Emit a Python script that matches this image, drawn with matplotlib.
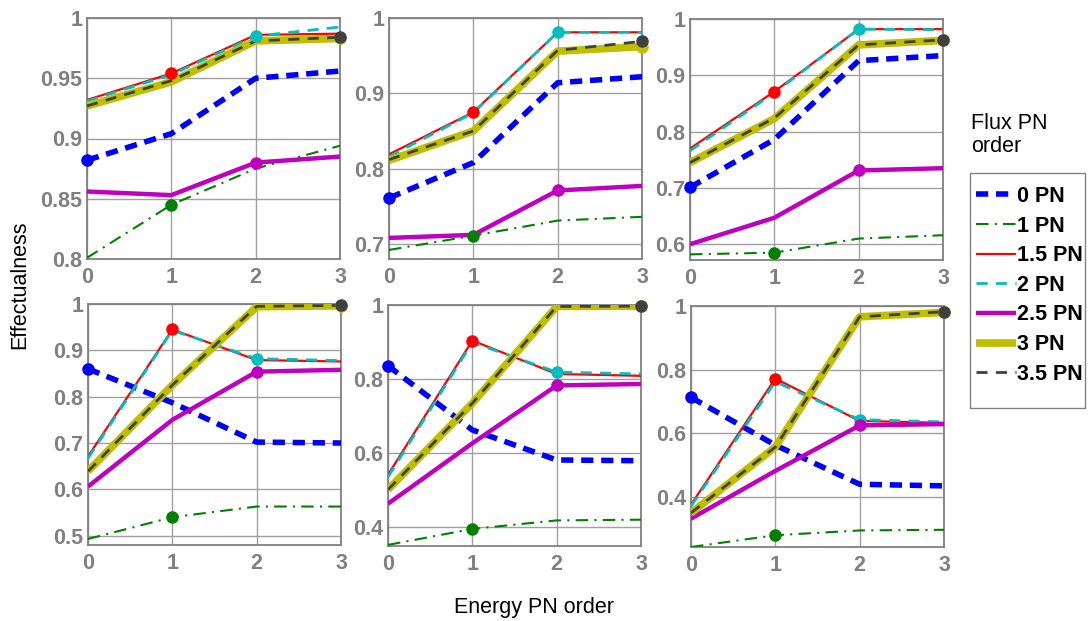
import matplotlib
matplotlib.use("Agg")
import matplotlib.pyplot as plt
from matplotlib.patches import Rectangle

plt.rcParams['font.family'] = ['Liberation Sans', 'DejaVu Sans']

x_vals = [0, 1, 2, 3]
series_names = ["0 PN", "1 PN", "1.5 PN", "2 PN", "2.5 PN", "3 PN", "3.5 PN"]

# panel data: each dict maps series -> values at energy PN orders 0..3
panel1 = {
    "0 PN":   [0.882, 0.904, 0.950, 0.956],
    "1 PN":   [0.801, 0.845, 0.875, 0.894],
    "1.5 PN": [0.932, 0.954, 0.986, 0.987],
    "2 PN":   [0.931, 0.953, 0.985, 0.9925],
    "2.5 PN": [0.856, 0.853, 0.880, 0.885],
    "3 PN":   [0.927, 0.947, 0.981, 0.983],
    "3.5 PN": [0.927, 0.948, 0.981, 0.984],
}
panel2 = {
    "0 PN":   [0.761, 0.808, 0.914, 0.922],
    "1 PN":   [0.692, 0.711, 0.731, 0.736],
    "1.5 PN": [0.819, 0.875, 0.981, 0.981],
    "2 PN":   [0.816, 0.874, 0.981, 0.981],
    "2.5 PN": [0.708, 0.712, 0.771, 0.777],
    "3 PN":   [0.811, 0.850, 0.956, 0.962],
    "3.5 PN": [0.812, 0.850, 0.957, 0.969],
}
panel3 = {
    "0 PN":   [0.701, 0.786, 0.926, 0.935],
    "1 PN":   [0.582, 0.585, 0.610, 0.616],
    "1.5 PN": [0.770, 0.871, 0.982, 0.982],
    "2 PN":   [0.766, 0.869, 0.982, 0.981],
    "2.5 PN": [0.600, 0.647, 0.731, 0.735],
    "3 PN":   [0.745, 0.823, 0.954, 0.962],
    "3.5 PN": [0.745, 0.824, 0.954, 0.963],
}
panel4 = {
    "0 PN":   [0.860, 0.787, 0.702, 0.700],
    "1 PN":   [0.493, 0.540, 0.563, 0.563],
    "1.5 PN": [0.671, 0.945, 0.879, 0.876],
    "2 PN":   [0.667, 0.943, 0.882, 0.878],
    "2.5 PN": [0.606, 0.750, 0.854, 0.858],
    "3 PN":   [0.639, 0.825, 0.994, 0.996],
    "3.5 PN": [0.639, 0.825, 0.995, 0.997],
}
panel5 = {
    "0 PN":   [0.836, 0.663, 0.582, 0.580],
    "1 PN":   [0.353, 0.396, 0.419, 0.421],
    "1.5 PN": [0.542, 0.904, 0.814, 0.809],
    "2 PN":   [0.536, 0.899, 0.819, 0.814],
    "2.5 PN": [0.464, 0.627, 0.783, 0.787],
    "3 PN":   [0.502, 0.735, 0.996, 0.997],
    "3.5 PN": [0.502, 0.735, 0.996, 0.997],
}
panel6 = {
    "0 PN":   [0.713, 0.563, 0.440, 0.435],
    "1 PN":   [0.243, 0.280, 0.295, 0.297],
    "1.5 PN": [0.376, 0.772, 0.639, 0.633],
    "2 PN":   [0.371, 0.762, 0.643, 0.636],
    "2.5 PN": [0.332, 0.482, 0.625, 0.629],
    "3 PN":   [0.350, 0.557, 0.966, 0.980],
    "3.5 PN": [0.350, 0.557, 0.966, 0.982],
}
panels = [panel1, panel2, panel3, panel4, panel5, panel6]
ylims = [(0.8, 1.0), (0.68, 1.0), (0.572, 1.0), (0.48, 1.0), (0.35, 1.0), (0.243, 1.0)]
yticks = [
    [0.8, 0.85, 0.9, 0.95, 1.0],
    [0.7, 0.8, 0.9, 1.0],
    [0.6, 0.7, 0.8, 0.9, 1.0],
    [0.5, 0.6, 0.7, 0.8, 0.9, 1.0],
    [0.4, 0.6, 0.8, 1.0],
    [0.4, 0.6, 0.8, 1.0],
]
ytick_labels = [
    ["0.8", "0.85", "0.9", "0.95", "1"],
    ["0.7", "0.8", "0.9", "1"],
    ["0.6", "0.7", "0.8", "0.9", "1"],
    ["0.5", "0.6", "0.7", "0.8", "0.9", "1"],
    ["0.4", "0.6", "0.8", "1"],
    ["0.4", "0.6", "0.8", "1"],
]
# which energy order carries a marker for each flux series
marker_at = {"0 PN": 0, "1 PN": 1, "1.5 PN": 1, "2 PN": 2, "2.5 PN": 2, "3 PN": 3, "3.5 PN": 3}

styles = {
    "0 PN":   dict(color="#0000ff", lw=4.0, ls=(0, (2.2, 1.4))),
    "1 PN":   dict(color="#008000", lw=1.5, ls=(0, (6, 3, 1, 3))),
    "1.5 PN": dict(color="#ff0000", lw=1.6, ls="-"),
    "2 PN":   dict(color="#00bfbf", lw=2.0, ls=(0, (4, 3))),
    "2.5 PN": dict(color="#bf00bf", lw=3.2, ls="-"),
    "3 PN":   dict(color="#bfbf00", lw=5.5, ls="-"),
    "3.5 PN": dict(color="#404040", lw=2.0, ls=(0, (4, 3))),
}

FS = 15.5
fig = plt.figure(figsize=(10.88, 6.21), dpi=100)
W, H = 1088, 621
boxes = [
    (87, 18, 340, 259), (389, 18, 642, 259), (690, 19, 943, 260),
    (88, 304, 341, 545), (388, 305, 641, 546), (691, 306, 944, 547),
]
gray = "#808080"
axes = []
for i, (l, t, r, b) in enumerate(boxes):
    ax = fig.add_axes([l / W, 1 - b / H, (r - l) / W, (b - t) / H])
    data = panels[i]
    for name in series_names:
        st = styles[name]
        ax.plot(x_vals, data[name], color=st["color"], lw=st["lw"], ls=st["ls"],
                label=name, solid_capstyle="butt", dash_capstyle="butt", zorder=3)
    for name in series_names:
        k = marker_at[name]
        ax.plot([x_vals[k]], [data[name][k]], "o", color=styles[name]["color"],
                ms=8, zorder=4, clip_on=False)
    ax.set_xlim(0, 3)
    ax.set_ylim(*ylims[i])
    ax.set_xticks(x_vals)
    ax.set_xticklabels([str(v) for v in x_vals])
    ax.set_yticks(yticks[i])
    ax.set_yticklabels(ytick_labels[i])
    ax.grid(True, color="#a0a0a0", lw=1.0)
    ax.set_axisbelow(True)
    for s in ax.spines.values():
        s.set_color(gray)
        s.set_linewidth(1.3)
    ax.tick_params(length=0, labelsize=FS, labelcolor=gray)
    ax.tick_params(axis="x", pad=5.5)
    ax.tick_params(axis="y", pad=3.5)
    for lab in ax.get_xticklabels() + ax.get_yticklabels():
        lab.set_fontweight("bold")
    axes.append(ax)

fig.text(20 / W, 1 - 285 / H, "Effectualness", rotation=90, ha="center", va="center", fontsize=FS)
fig.text(534 / W, 1 - 608 / H, "Energy PN order", ha="center", va="center", fontsize=FS)
fig.text(971 / W, 1 - 135 / H, "Flux PN\norder", ha="left", va="center", fontsize=FS, linespacing=1.1)

# legend frame drawn separately (reference has extra space at the bottom)
fig.patches.append(Rectangle((970 / W, 1 - 408 / H), 115 / W, 235 / H, transform=fig.transFigure,
                             facecolor="white", edgecolor=gray, lw=1.0, zorder=1))

handles, labels = axes[0].get_legend_handles_labels()
leg = fig.legend(handles[:7], labels[:7], loc="upper left",
                 bbox_to_anchor=(976 / W, 1 - 186 / H), frameon=False,
                 handlelength=1.85, handletextpad=0.05, borderpad=0.0, labelspacing=0.4,
                 borderaxespad=0, prop=dict(weight="bold", size=FS))
leg.set_zorder(2)

fig.savefig("out.png", dpi=100)
